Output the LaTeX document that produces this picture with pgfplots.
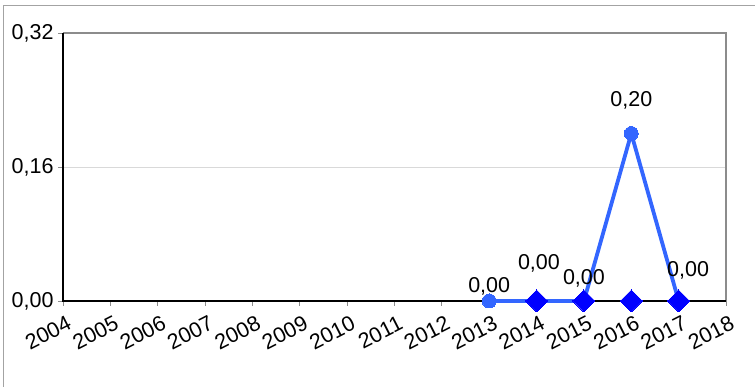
\documentclass[border=0pt]{standalone}
\usepackage{fontspec}
\setmainfont{Liberation Sans}
\usepackage{pgfplots}
\usepackage{pgfplotstable}
\pgfplotsset{compat=1.18}
\definecolor{lineblue}{HTML}{3366FF}
\definecolor{diablue}{HTML}{0000FF}
\definecolor{framegray}{HTML}{8C8C8C}
\pgfplotstableread{
year value
2013 0
2014 0
2015 0
2016 0.20
2017 0
}\seriesA
\pgfplotstableread{
year value
2014 0
2015 0
2016 0
2017 0
}\seriesB
\pgfplotstableread{
x y label
2013.0 0.018 0,00
2014.05 0.045 0,00
2015.0 0.027 0,00
2016.0 0.240 0,20
2017.2 0.036 0,00
}\labels
\begin{document}
\begin{tikzpicture}[x=1pt,y=1pt]
\useasboundingbox (0,0) rectangle (755,387);
\draw[framegray!80, line width=1pt] (3,0) -- (3,381) -- (755,381);
\begin{axis}[
  at={(63pt,86pt)}, anchor=south west,
  scale only axis, width=663pt, height=268pt,
  xmin=2004, xmax=2018, ymin=0, ymax=0.32,
  xtick={2004,...,2018},
  ytick={0,0.16,0.32},
  yticklabels={{0,00},{0,16},{0,32}},
  /pgf/number format/1000 sep={},
  /pgf/number format/assume math mode=true,
  tick label style={font=\fontsize{21.5}{24}\selectfont},
  xticklabel style={rotate=27, anchor=north east, yshift=-6pt, xshift=2pt},
  yticklabel style={xshift=-1pt},
  tick align=outside, major tick length=5pt,
  tick style={framegray, line width=0.8pt},
  xtick pos=bottom, ytick pos=left,
  ymajorgrids, grid style={black!15, line width=0.6pt},
  axis line style={draw=none},
  clip=false,
]
\draw[framegray, line width=1.6pt] (rel axis cs:0,1) -- (rel axis cs:1,1) -- (rel axis cs:1,0);
\draw[black, line width=1.2pt] (rel axis cs:0,1) -- (rel axis cs:0,0) -- (rel axis cs:1,0);
\addplot[lineblue, line width=3.8pt, mark=*, mark size=7pt, mark options={solid, fill=lineblue, draw=lineblue, line width=0pt}] table[x=year, y=value] {\seriesA};
\addplot[only marks, mark=diamond*, mark size=11pt, mark options={fill=diablue, draw=diablue, line width=0pt, xscale=1.33}] table[x=year, y=value] {\seriesB};
\addplot[draw=none, mark=none, nodes near coords, point meta=explicit symbolic,
  nodes near coords style={anchor=center, font=\fontsize{21.5}{24}\selectfont, text=black}]
  table[x=x, y=y, meta=label] {\labels};
\end{axis}
\end{tikzpicture}
\end{document}
